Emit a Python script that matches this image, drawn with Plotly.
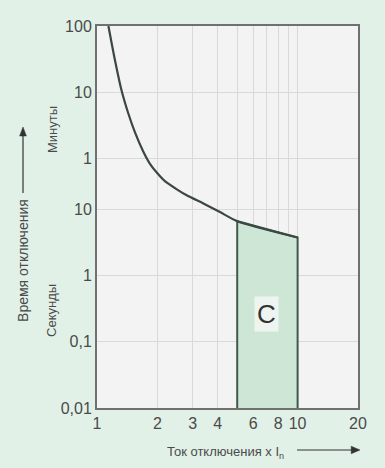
import plotly.graph_objects as go
import math

# Data (current in multiples of In, time in seconds)
trip_current = [1.14, 1.22, 1.32, 1.43, 1.55, 1.70, 1.84, 2.0, 2.18, 2.5, 2.8, 3.39, 4.1, 5.0, 10.0]
trip_time_s = [6000, 2040, 670, 290, 145, 76, 49, 35.5, 27, 20.3, 16.5, 12.4, 9.2, 6.7, 3.8]

zone_lo = 5.0
zone_hi = 10.0
t_min_s = 0.01
zone_label = "C"
zone_label_x = 6.96
zone_label_y = 0.264

x_tickvals = [1, 2, 3, 4, 6, 8, 10, 20]
x_ticktext = ["1", "2", "3", "4", "6", "8", "10", "20"]
x_minor_grid = [5, 7, 9]
y_tickvals = [0.01, 0.1, 1, 10, 60, 600, 6000]
y_ticktext = ["0,01", "0,1", "1", "10", "1", "10", "100"]

FONT = "Liberation Sans, Arial, sans-serif"
TXT = "#4a4a4a"
GRID = "#d9d9dc"

fig = go.Figure()

# Shaded C zone
zx = [zone_lo] + [c for c in trip_current if zone_lo <= c <= zone_hi] + [zone_hi]
zy = [t_min_s] + [t for c, t in zip(trip_current, trip_time_s) if zone_lo <= c <= zone_hi] + [t_min_s]
fig.add_trace(go.Scatter(
    x=zx, y=zy, mode="lines", fill="toself", fillcolor="#cde6d6",
    line=dict(color="#3f5a4c", width=2), hoverinfo="skip", showlegend=False))

# Trip curve
fig.add_trace(go.Scatter(
    x=trip_current, y=trip_time_s, mode="lines",
    line=dict(color="#3b4742", width=2.2, shape="spline", smoothing=0.6),
    showlegend=False))

fig.update_xaxes(
    type="log", range=[0, math.log10(20)],
    tickmode="array", tickvals=x_tickvals, ticktext=x_ticktext,
    showgrid=True, gridcolor=GRID, gridwidth=1,
    minor=dict(tickmode="array", tickvals=x_minor_grid, showgrid=True,
               gridcolor=GRID, gridwidth=1, ticks=""),
    showline=True, linecolor="#707070", linewidth=2, mirror=True,
    ticks="", zeroline=False,
    tickfont=dict(family=FONT, size=16, color=TXT))
fig.update_yaxes(
    type="log", range=[-2, math.log10(6000)],
    tickmode="array", tickvals=y_tickvals, ticktext=y_ticktext,
    showgrid=True, gridcolor=GRID, gridwidth=1,
    showline=True, linecolor="#707070", linewidth=2, mirror=True,
    ticks="", zeroline=False,
    tickfont=dict(family=FONT, size=16, color=TXT))

annotations = [
    dict(text=zone_label, xref="x", yref="y", x=math.log10(zone_label_x), y=math.log10(zone_label_y),
         showarrow=False, font=dict(family=FONT, size=26, color="#333333"),
         bgcolor="#eef5f1", borderpad=2),
    dict(text="Время отключения", xref="paper", yref="paper", x=-0.2835, y=0.385,
         xanchor="center", yanchor="middle",
         textangle=-90, showarrow=False, font=dict(family=FONT, size=14, color=TXT)),
    dict(text="Минуты", xref="paper", yref="paper", x=-0.1724, y=0.7277,
         xanchor="center", yanchor="middle",
         textangle=-90, showarrow=False, font=dict(family=FONT, size=13, color=TXT)),
    dict(text="Секунды", xref="paper", yref="paper", x=-0.1724, y=0.254,
         xanchor="center", yanchor="middle",
         textangle=-90, showarrow=False, font=dict(family=FONT, size=13, color=TXT)),
    dict(text="Ток отключения x I<sub>n</sub>", xref="paper", yref="paper", x=0.494, y=-0.1152,
         xanchor="center", yanchor="middle",
         showarrow=False, font=dict(family=FONT, size=13, color=TXT)),
]

shapes = [
    # vertical arrow next to y title
    dict(type="line", xref="paper", yref="paper", x0=-0.2835, x1=-0.2835, y0=0.5628, y1=0.716,
         line=dict(color="#333333", width=1.2)),
    dict(type="path", xref="paper", yref="paper",
         path="M -0.2835,0.7356 L -0.2965,0.7120 L -0.2705,0.7120 Z",
         fillcolor="#333333", line=dict(color="#333333", width=0.5)),
    # horizontal arrow next to x title
    dict(type="line", xref="paper", yref="paper", x0=0.7663, x1=0.977, y0=-0.1099, y1=-0.1099,
         line=dict(color="#333333", width=1.2)),
    dict(type="path", xref="paper", yref="paper",
         path="M 1.0077,-0.1099 L 0.974,-0.1000 L 0.974,-0.1198 Z",
         fillcolor="#333333", line=dict(color="#333333", width=0.5)),
]

fig.update_layout(
    width=385, height=468,
    margin=dict(l=97, r=27, t=26, b=60),
    paper_bgcolor="#e2f1e7", plot_bgcolor="#f3f3f4",
    annotations=annotations, shapes=shapes,
    showlegend=False,
)

fig.write_html("out.html", config={"displayModeBar": False},
               post_script="document.body.style.margin='0px';document.body.style.background='#e2f1e7';")
